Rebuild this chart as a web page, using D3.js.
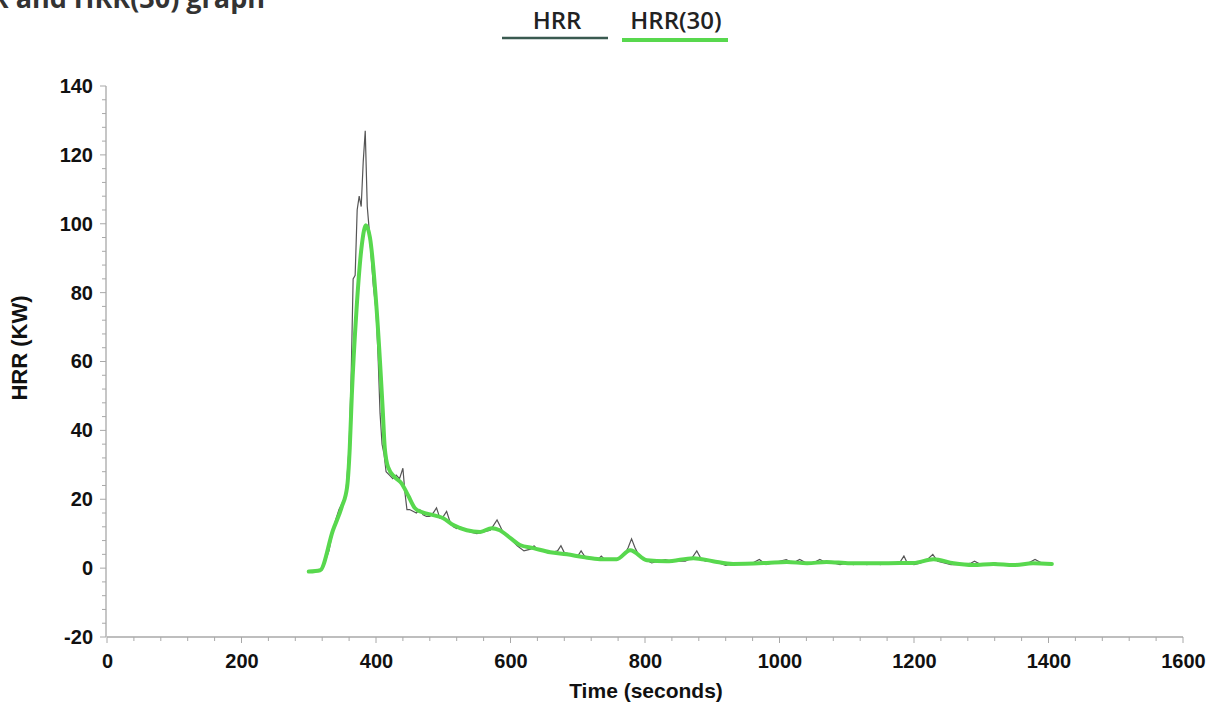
<!DOCTYPE html>
<html><head><meta charset="utf-8">
<script src="https://cdn.jsdelivr.net/npm/d3@7"></script>
<style>body{margin:0;background:#fff;} svg{display:block;}</style>
</head><body>
<svg id="chart" width="1215" height="706"></svg>
<script>
const seriesNames = ["HRR", "HRR(30)"];
const xTicks = [0,200,400,600,800,1000,1200,1400,1600];
const yTicks = [-20,0,20,40,60,80,100,120,140];

const rawTime = [300,310,320,330,335,340,345,350,355,360,363,366,369,372,375,378,381,384,387,390,393,396,400,403,406,409,412,415,420,425,430,435,440,443,446,450,455,460,465,470,475,480,485,490,495,500,505,510,515,520,525,530,540,550,560,570,575,580,585,590,600,610,620,630,635,640,650,660,670,675,680,690,700,705,710,720,730,735,740,750,760,770,775,780,785,790,800,810,820,830,840,850,860,870,877,884,890,900,910,920,930,940,950,960,970,980,990,1000,1010,1020,1030,1040,1050,1060,1070,1080,1090,1100,1110,1120,1130,1140,1150,1160,1170,1180,1185,1190,1200,1210,1220,1228,1235,1245,1255,1265,1275,1285,1290,1300,1310,1320,1330,1340,1350,1360,1370,1380,1385,1390,1400];
const rawHRR = [-1,-1,-0.5,5,10,14,17,19,21,35,55,84,85,104,108,105,118,127,105,98,90,82,75,62,45,36,33,28,27,26,27,26,29,22,17,17,16.5,16,17,15.5,15,15,16,17.5,14.5,15,16.5,13.5,12,11.5,12,11.5,10.5,10,10.5,11,12.5,14,12,10,8.5,6.5,5,5.5,6.5,5.5,5,4.5,5,6.5,4.5,4,3.5,5,3.5,3,2.5,3.5,2.5,2.5,2.5,4,6,8.5,6,4,2.5,1.5,2,2.5,2,2,2,3,5,2.5,2,2,1.5,0.8,1.2,1.5,1.5,1.5,2.5,1,1.5,2,2.5,1.5,2.5,1.5,1.5,2.5,1.5,1.5,1,1.5,1,1.5,1,1.5,1,1.5,1.5,2,3.5,1.5,1,1.5,2.5,4,2,1.5,1,1,1,1.5,2,1,1,1.5,1,1,1,1,1.5,2.5,2,1.5,1];

const avgTime = [300,317,336,349,357,361,364,371,379,385,391,401,410,413,418,428,438,448,458,468,485,500,515,535,555,572,584,600,614,634,659,684,708,733,758,778,803,832,872,901,931,981,1011,1041,1070,1105,1145,1179,1199,1229,1259,1288,1318,1348,1377,1405];
const avgHRR = [-1,-0.6,11,17.7,23.5,35,50,75,94,99.6,96,75,46,35,29.3,26.4,24.6,21,17.4,16.3,15.4,14.5,12.5,11,10.5,11.6,11,8.7,6.7,5.8,4.6,4,3.2,2.6,2.6,5.2,2.3,2,2.9,2,1.2,1.5,1.8,1.4,1.8,1.4,1.4,1.5,1.5,2.6,1.4,0.9,1.2,0.9,1.4,1.2];

const svg = d3.select("#chart");
const x = d3.scaleLinear().domain([0,1600]).range([107,1183]);
const y = d3.scaleLinear().domain([-20,140]).range([637,86]);

const axisColor = "#a8a8a8";
const font = "'Liberation Sans', Arial, sans-serif";
const fmt = d => String(d).replace("\u2212","-");

// title (cut at top like the reference)
svg.append("text").attr("x", 265).attr("y", 8).attr("text-anchor","end")
  .attr("font-family","'Open Sans', sans-serif").attr("font-weight","bold").attr("font-size",27)
  .attr("fill","#333").text("HRR and HRR(30) graph");

// minor ticks
const gx = svg.append("g");
d3.range(0,1601,40).forEach(v=>{
  const major = v%200===0;
  gx.append("line").attr("x1",x(v)).attr("x2",x(v)).attr("y1",637).attr("y2",637+(major?6:4))
    .attr("stroke",axisColor).attr("stroke-width",1);
});
d3.range(-20,141,4).forEach(v=>{
  const major = v%20===0;
  gx.append("line").attr("y1",y(v)).attr("y2",y(v)).attr("x1",106).attr("x2",106-(major?6:4))
    .attr("stroke",axisColor).attr("stroke-width",1);
});

// axes via d3
const xAxis = svg.append("g").attr("transform","translate(0,637)")
  .call(d3.axisBottom(x).tickValues(xTicks).tickSize(0).tickPadding(17).tickFormat(fmt));
const yAxis = svg.append("g").attr("transform","translate(106,0)")
  .call(d3.axisLeft(y).tickValues(yTicks).tickSize(0).tickPadding(13).tickFormat(fmt));
[xAxis,yAxis].forEach(a=>{
  a.select(".domain").attr("stroke",axisColor).attr("stroke-width",1.3);
  a.selectAll("text").attr("font-family",font).attr("font-weight","bold").attr("font-size",20).attr("fill","#111");
});
xAxis.select(".domain").attr("d","M107,0H1183");
yAxis.select(".domain").attr("d","M0,86V637");

// axis titles
svg.append("text").attr("x",646).attr("y",698).attr("text-anchor","middle")
  .attr("font-family",font).attr("font-weight","bold").attr("font-size",21).attr("fill","#111").text("Time (seconds)");
svg.append("text").attr("transform","translate(27,348) rotate(-90)").attr("text-anchor","middle")
  .attr("font-family",font).attr("font-weight","bold").attr("font-size",22).attr("fill","#111").text("HRR (KW)");

// lines
const rawData = rawTime.map((t,i)=>({t, v: rawHRR[i]}));
const avgData = avgTime.map((t,i)=>({t, v: avgHRR[i]}));
svg.append("path").datum(rawData)
  .attr("d", d3.line().x(d=>x(d.t)).y(d=>y(d.v)))
  .attr("fill","none").attr("stroke","#555").attr("stroke-width",1.2);
svg.append("path").datum(avgData)
  .attr("d", d3.line().curve(d3.curveMonotoneX).x(d=>x(d.t)).y(d=>y(d.v)))
  .attr("fill","none").attr("stroke","#58d84e").attr("stroke-width",4).attr("stroke-linejoin","round").attr("stroke-linecap","round");

// legend
const lg = svg.append("g");
lg.append("text").attr("x",557).attr("y",29).attr("text-anchor","middle")
  .attr("font-family","'Open Sans', sans-serif").attr("font-weight",600).attr("font-size",24).attr("fill","#222").text(seriesNames[0]);
lg.append("line").attr("x1",502).attr("x2",608).attr("y1",38).attr("y2",38).attr("stroke","#3a5a50").attr("stroke-width",2.5);
lg.append("text").attr("x",676).attr("y",29).attr("text-anchor","middle")
  .attr("font-family","'Open Sans', sans-serif").attr("font-weight",600).attr("font-size",24).attr("fill","#222").text(seriesNames[1]);
lg.append("line").attr("x1",622).attr("x2",728).attr("y1",40).attr("y2",40).attr("stroke","#58d84e").attr("stroke-width",4);
</script>
</body></html>
